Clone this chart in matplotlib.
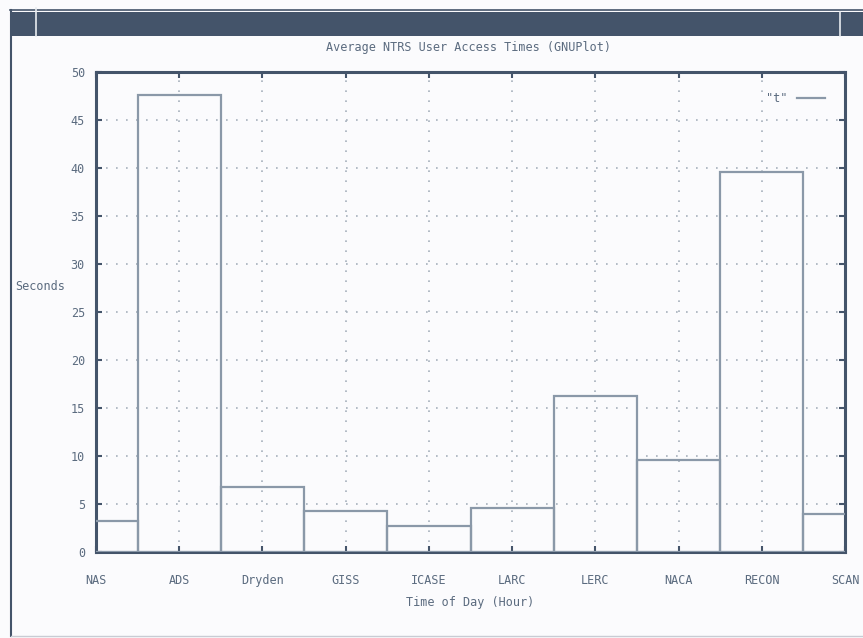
import matplotlib
matplotlib.use("Agg")
import matplotlib.pyplot as plt
from matplotlib.patches import Rectangle
from matplotlib.lines import Line2D

categories = ["NAS", "ADS", "Dryden", "GISS", "ICASE", "LARC", "LERC", "NACA", "RECON", "SCAN"]
seconds = [3.2, 47.6, 6.8, 4.3, 2.7, 4.6, 16.3, 9.6, 39.6, 4.0]
yticks = [0, 5, 10, 15, 20, 25, 30, 35, 40, 45, 50]

W, H = 863, 638
fig = plt.figure(figsize=(W / 100, H / 100), dpi=100)
fig.patch.set_facecolor("#fbfbfd")

dark = "#44546a"
textc = "#5b6b7f"
edge = "#8a98a8"
font = "DejaVu Sans Mono"

def fx(px):
    return px / W

def fy(py):
    return 1 - py / H

# window decorations
fig.add_artist(Rectangle((fx(10), fy(36)), fx(853), 24 / H, transform=fig.transFigure,
                         facecolor=dark, edgecolor="none"))
fig.add_artist(Line2D([fx(10), fx(863)], [fy(10), fy(10)], transform=fig.transFigure,
                      color=dark, lw=1.2))
fig.add_artist(Line2D([fx(11), fx(11)], [fy(10), fy(636)], transform=fig.transFigure,
                      color=dark, lw=1.5))
fig.add_artist(Line2D([fx(11), fx(863)], [fy(636), fy(636)], transform=fig.transFigure,
                      color="#c8ccd4", lw=1))
fig.add_artist(Line2D([fx(36), fx(36)], [fy(8), fy(36)], transform=fig.transFigure,
                      color="#e8ecf0", lw=1.2))
fig.add_artist(Line2D([fx(840), fx(840)], [fy(12), fy(36)], transform=fig.transFigure,
                      color="#e8ecf0", lw=1.2))

ax = fig.add_axes([fx(96), fy(552), fx(845 - 96), (552 - 72) / H])
ax.set_facecolor("#fbfbfd")
x = list(range(len(categories)))
ax.bar(x, seconds, width=1.0, fill=False, edgecolor=edge, linewidth=1.6, zorder=3)
ax.set_xlim(0, len(categories) - 1)
ax.set_ylim(0, 50)
ax.set_xticks(x)
ax.set_xticklabels(categories, family=font, fontsize=8.5, color=textc)
ax.set_yticks(yticks)
ax.set_yticklabels([str(v) for v in yticks], family=font, fontsize=8.5, color=textc)
ax.tick_params(direction="in", length=4, width=1.5, color=dark, top=True, right=True)
ax.tick_params(axis="x", pad=16)
ax.tick_params(axis="y", pad=8)
ax.grid(True, linestyle=(0, (1, 5)), color="#a6b0bc", linewidth=1.2)
for s in ax.spines.values():
    s.set_color(dark)
    s.set_linewidth(2.2)

ax.set_xlabel("Time of Day (Hour)", family=font, fontsize=8.5, color=textc, labelpad=6)
fig.text(fx(40), fy(286), "Seconds", family=font, fontsize=8.5, color=textc, ha="center", va="center")
fig.text(fx(468), fy(47), "Average NTRS User Access Times (GNUPlot)", family=font, fontsize=8.5,
         color=textc, ha="center", va="center")

handle = Line2D([], [], color=edge, linewidth=1.6)
leg = ax.legend([handle], ['"t"'], loc="upper right", frameon=False, markerfirst=False,
                handlelength=2.4, prop={"family": font, "size": 8.5}, borderaxespad=1.3)
for t in leg.get_texts():
    t.set_color(textc)

fig.savefig("out.png", dpi=100, facecolor=fig.get_facecolor())
